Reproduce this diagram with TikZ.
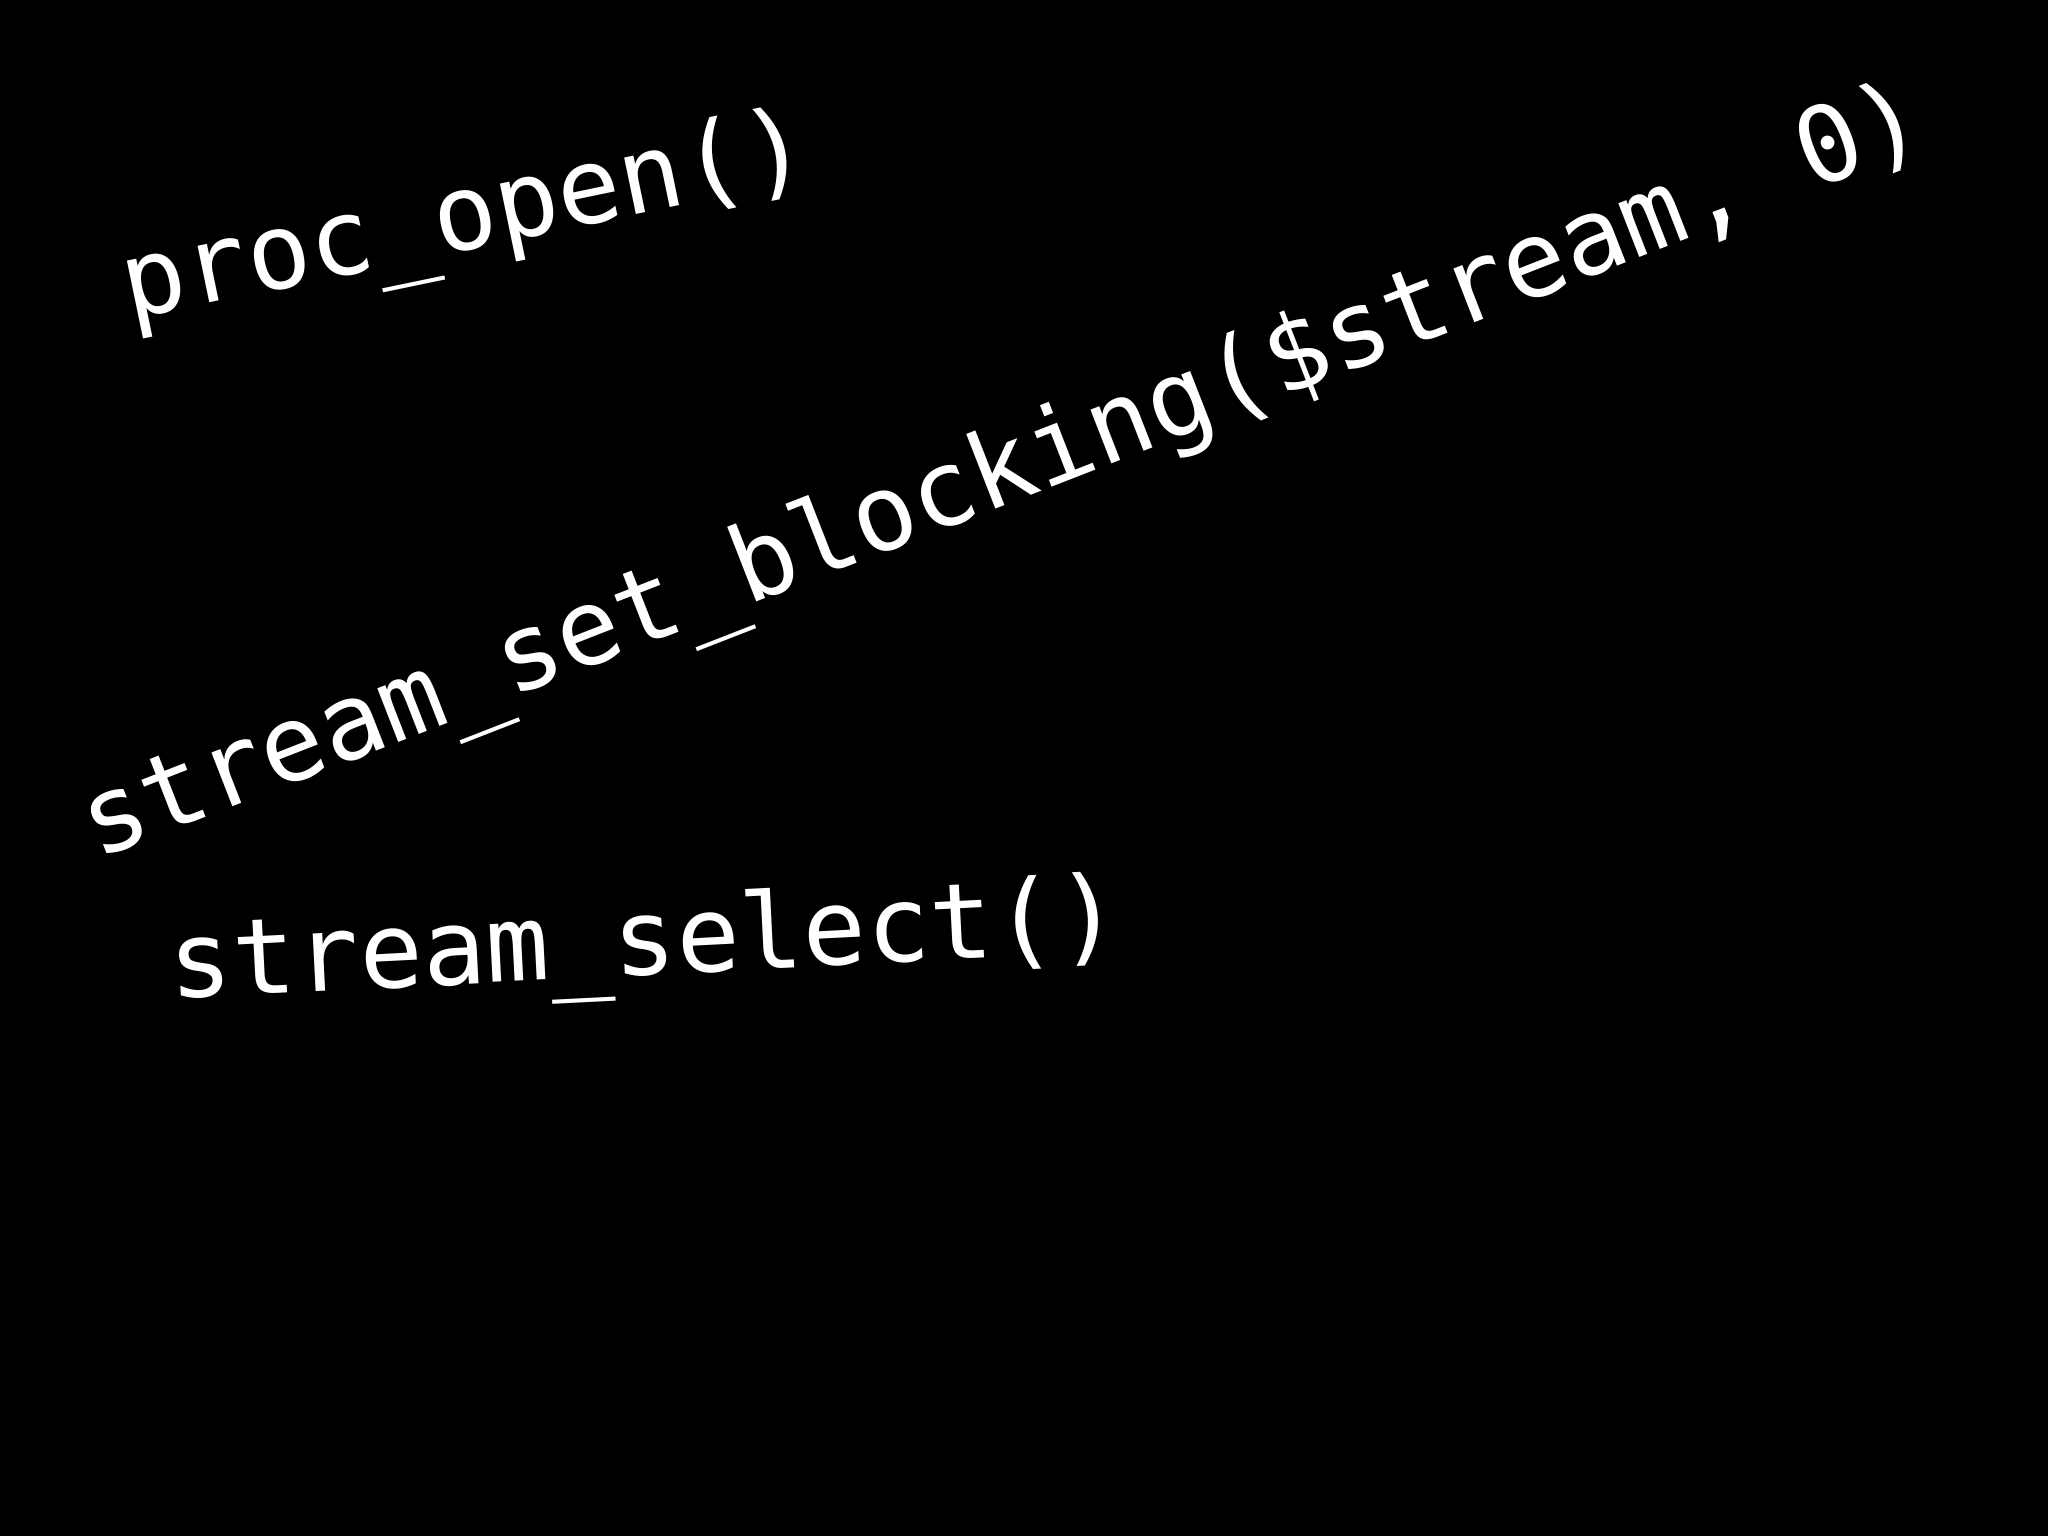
\documentclass[tikz,border=0pt]{standalone}
\usepackage{fontspec}
\setmonofont{DejaVu Sans Mono}
\begin{document}
\begin{tikzpicture}
\fill[black] (0,0) rectangle (20.48,15.36);
\useasboundingbox (0,0) rectangle (20.48,15.36);
\tikzset{code/.style={text=white,font=\ttfamily\fontsize{30}{33}\selectfont,inner sep=0pt}}
\node[code,rotate=11.7] (a) at (4.66,13.14) {proc\_open()};
\node[code,rotate=21.3] (b) at (10.04,10.60) {stream\_set\_blocking(\$stream, 0)};
\node[code,rotate=2.9] (c) at (6.45,5.89) {stream\_select()};
\end{tikzpicture}
\end{document}
